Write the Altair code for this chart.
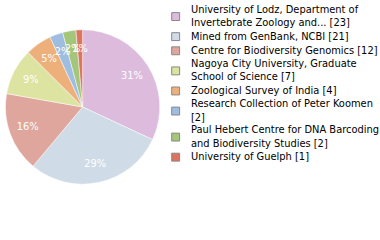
import altair as alt
import pandas as pd

labels = [
    "University of Lodz, Department of|Invertebrate Zoology and... [23]",
    "Mined from GenBank, NCBI [21]",
    "Centre for Biodiversity Genomics [12]",
    "Nagoya City University, Graduate|School of Science [7]",
    "Zoological Survey of India [4]",
    "Research Collection of Peter Koomen|[2]",
    "Paul Hebert Centre for DNA Barcoding|and Biodiversity Studies [2]",
    "University of Guelph [1]",
]
counts = [23, 21, 12, 7, 4, 2, 2, 1]
colors = ["#dcbbdd", "#cfdbe6", "#dea69d", "#dde3a0", "#eeb07a", "#9ebde0", "#a3c67a", "#dd7462"]

total = sum(counts)
df = pd.DataFrame({
    "label": labels,
    "count": counts,
    "order": list(range(len(labels))),
    "pct": [f"{int(c * 100 // total)}%" for c in counts],
})

LH = 13.3

base = alt.Chart(df).encode(
    theta=alt.Theta("count:Q", stack=True),
    order=alt.Order("order:Q", sort="ascending"),
)

pie = base.mark_arc(radius=78, stroke="white", strokeWidth=0.5).encode(
    color=alt.Color(
        "label:N",
        sort=labels,
        scale=alt.Scale(domain=labels, range=colors),
        legend=alt.Legend(
            title=None,
            orient="none",
            legendX=172.5,
            legendY=10.6,
            padding=0,
            symbolType="square",
            symbolSize=64,
            symbolStrokeColor="#888888",
            symbolStrokeWidth=1,
            symbolOpacity=1,
            labelFont="DejaVu Sans",
            labelFontSize=10,
            labelColor="#000000",
            labelLimit=400,
            labelOffset=10.5,
            rowPadding=2.3,
            labelExpr="split(datum.label, '|')",
        ),
    ),
)

text = base.mark_text(radius=59, fill="white", font="DejaVu Sans", fontSize=10).encode(
    text="pct:N",
)

chart = (pie + text).properties(
    width=167, height=214, padding=0, autosize=alt.AutoSizeParams(type="pad")
).configure_view(stroke=None).configure(
    style={
        "guide-label": {
            "lineHeight": LH,
            "dy": {"expr": f"indexof(datum.value, '|') >= 0 ? {-LH / 2} : 0"},
        }
    }
)

chart.save("out.html", embed_options={"renderer": "svg", "actions": False})
